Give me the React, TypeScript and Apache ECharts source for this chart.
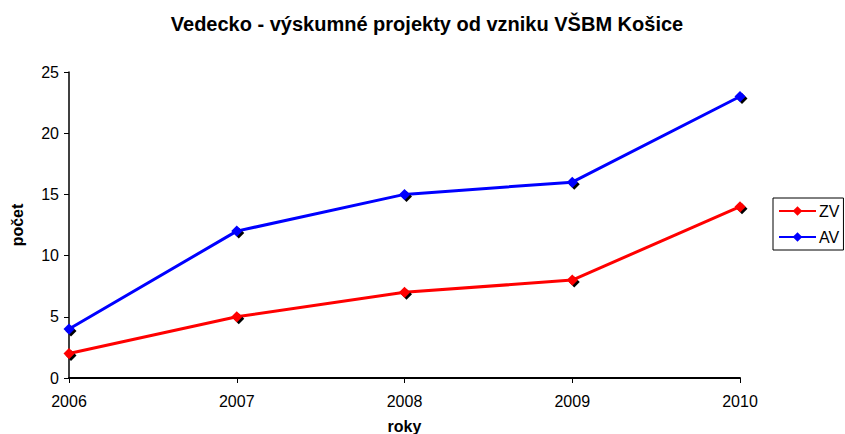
import React, { useEffect, useRef } from "react";
import * as echarts from "echarts";

const years = ["2006", "2007", "2008", "2009", "2010"];
const zvValues = [2, 5, 7, 8, 14];
const avValues = [4, 12, 15, 16, 23];
const titleText = "Vedecko - výskumné projekty od vzniku VŠBM Košice";

const FONT = "'Liberation Sans', Arial, sans-serif";

export default function App() {
  const ref = useRef<HTMLDivElement>(null);
  useEffect(() => {
    if (!ref.current) return;
    const chart = echarts.init(ref.current, null, { renderer: "svg" });
    const marker = (color: string) => ({
      color,
      shadowColor: "#000",
      shadowBlur: 0,
      shadowOffsetX: 2,
      shadowOffsetY: 2,
    });
    chart.setOption({
      animation: false,
      backgroundColor: "#fff",
      title: {
        text: titleText,
        left: 422,
        textAlign: "center",
        top: 9,
        textStyle: { fontFamily: FONT, fontSize: 20, fontWeight: "bold", color: "#000", letterSpacing: -0.3 },
      },
      legend: {
        orient: "vertical",
        left: 773,
        top: 198,
        padding: [5, 4, 5, 5],
        itemGap: 10,
        borderColor: "#000",
        borderWidth: 1,
        borderRadius: 0,
        itemWidth: 37,
        itemHeight: 12,
        textStyle: { fontFamily: FONT, fontSize: 16, color: "#000", padding: [0, 0, 0, -2] },
        data: ["ZV", "AV"],
      },
      grid: { left: 69, right: 105, top: 72, bottom: 56, containLabel: false, outerBoundsMode: "none" },
      xAxis: {
        type: "category",
        data: years,
        boundaryGap: false,
        name: "roky",
        nameLocation: "middle",
        nameGap: 40,
        nameTextStyle: { fontFamily: FONT, fontSize: 16, fontWeight: "bold", color: "#000", lineHeight: 16 },
        axisLine: { lineStyle: { color: "#000", width: 2 } },
        axisTick: { show: true, length: 5, lineStyle: { color: "#000", width: 1 } },
        axisLabel: { fontFamily: FONT, fontSize: 16, color: "#000", margin: 15 },
        splitLine: { show: false },
      },
      yAxis: {
        type: "value",
        min: 0,
        max: 25,
        interval: 5,
        name: "počet",
        nameLocation: "middle",
        nameRotate: 90,
        nameGap: 44,
        nameTextStyle: { fontFamily: FONT, fontSize: 16, fontWeight: "bold", color: "#000" },
        axisLine: { show: true, lineStyle: { color: "#000", width: 1.5 } },
        axisTick: { show: true, length: 5, lineStyle: { color: "#000", width: 1 } },
        axisLabel: { fontFamily: FONT, fontSize: 16, color: "#000", margin: 10 },
        splitLine: { show: false },
      },
      series: [
        {
          name: "ZV",
          type: "line",
          data: zvValues,
          symbol: "diamond",
          symbolSize: 11,
          lineStyle: { color: "#ff0000", width: 3 },
          itemStyle: marker("#ff0000"),
        },
        {
          name: "AV",
          type: "line",
          data: avValues,
          symbol: "diamond",
          symbolSize: 11,
          lineStyle: { color: "#0000ff", width: 3 },
          itemStyle: marker("#0000ff"),
        },
      ],
    });
    return () => chart.dispose();
  }, []);
  return <div ref={ref} style={{ width: 845, height: 434, position: "absolute", left: 0, top: 0 }} />;
}
